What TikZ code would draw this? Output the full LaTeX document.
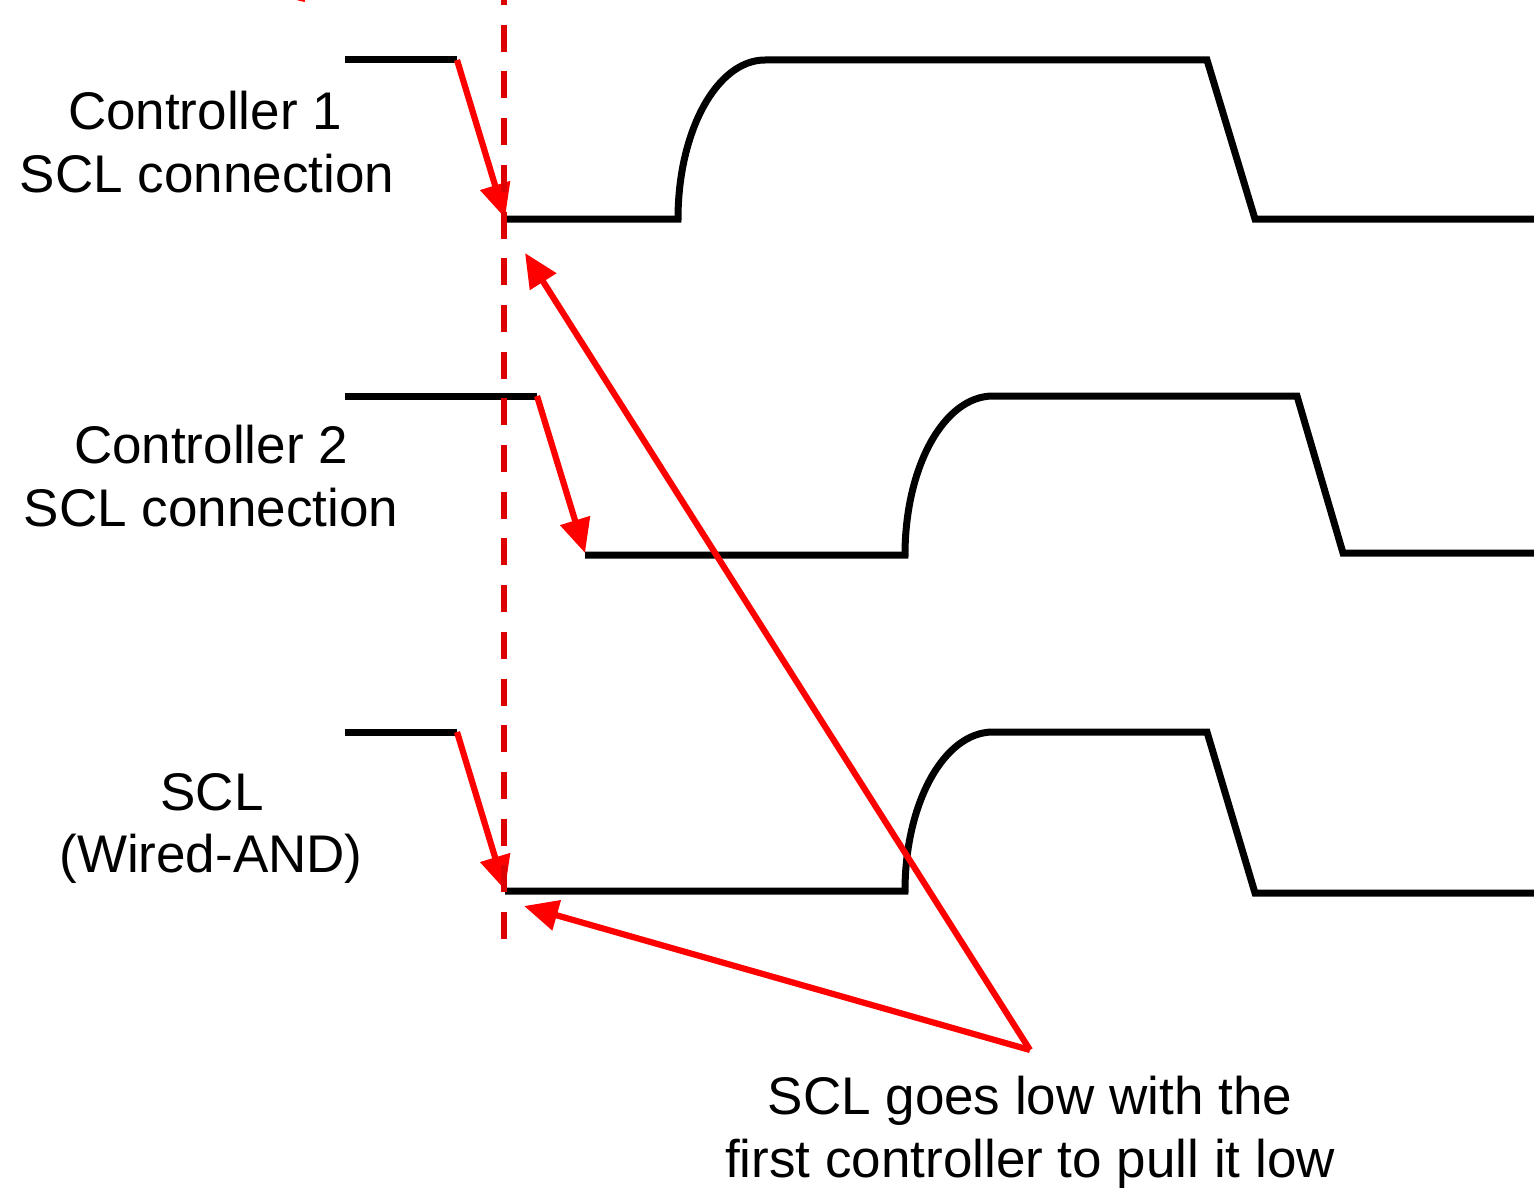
\documentclass[tikz,border=0pt]{standalone}
\usepackage{fontspec}
\setmainfont{Liberation Sans}
\usetikzlibrary{arrows.meta}
\definecolor{markred}{RGB}{220,0,0}
\definecolor{arrowred}{RGB}{255,0,0}
\begin{document}
\begin{tikzpicture}[x=1pt,y=-1pt,
  signal/.style={line width=7pt, black, line join=miter},
  edgearrow/.style={line width=6.2pt, draw=arrowred, -{Triangle[length=34pt,width=30pt]}},
  label/.style={font=\fontsize{53}{63}\selectfont, anchor=base, inner sep=0pt},
  marker/.style={line width=6pt, draw=markred, dash pattern=on 27pt off 19.7pt}]
\useasboundingbox (0,0) rectangle (1534,1188);

% signal labels
\node[label] (c1a) at (205,130) {Controller 1};
\node[label] (c1b) at (207,192) {SCL connection};
\node[label] (c2a) at (211,463) {Controller 2};
\node[label] (c2b) at (211,526) {SCL connection};
\node[label] (sa) at (212,810) {SCL};
\node[label] (sb) at (211,872) {(Wired-AND)};

% Controller 1 SCL
\draw[signal] (345,60) -- (457,60);
\draw[signal] (505,219) -- (678,219) .. controls (678,131) and (717,60) .. (765,60)
  -- (1207,60) -- (1255,219) -- (1534,219);

% Controller 2 SCL
\draw[signal] (345,396) -- (537,396);
\draw[signal] (585,555) -- (905,555) .. controls (905,467) and (944,396) .. (993,396)
  -- (1297,396) -- (1343,553) -- (1534,553);

% wired-AND SCL
\draw[signal] (345,732) -- (457,732);
\draw[signal] (505,891) -- (905,891) .. controls (905,803) and (944,732) .. (993,732)
  -- (1207,732) -- (1255,893) -- (1534,893);

% falling edges
\draw[edgearrow] (457,60) -- (505,218);
\draw[edgearrow] (537,396) -- (585,553);
\draw[edgearrow] (457,732) -- (505,890);

% annotation
\node[label] (na) at (1030,1114) {SCL goes low with the};
\node[label] (nb) at (1030,1177) {first controller to pull it low};
\coordinate (apex) at (1030,1050);
\coordinate (t1) at (525,253);
\coordinate (t2) at (524,906);
\draw[edgearrow] (apex) -- (t1);
\draw[edgearrow] (apex) -- (t2);

% time marker
\draw[marker] (504,-22) -- (504,940);
\draw[arrowred, line width=3pt] (298,-1) -- (305,0.5);
\end{tikzpicture}
\end{document}
